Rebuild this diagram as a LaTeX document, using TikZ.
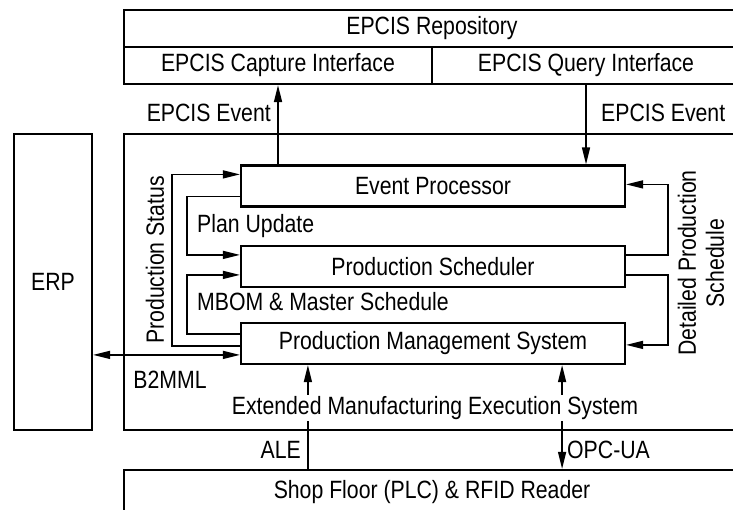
\documentclass[tikz,border=0pt]{standalone}
\usepackage{fontspec}
\setmainfont[FakeStretch=0.85]{Liberation Sans}
\usetikzlibrary{arrows.meta,positioning,calc}

\tikzset{
  box/.style={draw, line width=2.2pt, minimum width=384pt, minimum height=41pt, inner sep=0pt},
  lbl/.style={inner sep=1pt},
  flow/.style={line width=1.5pt, -{Triangle[length=17pt,width=8pt]}},
  both/.style={line width=1.5pt, {Triangle[length=17pt,width=8pt]}-{Triangle[length=17pt,width=8pt]}}
}

\begin{document}
\begin{tikzpicture}[x=1pt,y=-1pt,font=\fontsize{25}{28}\selectfont]
\useasboundingbox (0,0) rectangle (733,509);

% EPCIS repository on top
\node[box, minimum width=616pt, minimum height=37pt] (repo) at (432,28.5) {EPCIS Repository};
\node[box, minimum width=308pt, minimum height=37pt] (capture) at (278,65.5) {EPCIS Capture Interface};
\node[box, minimum width=308pt, minimum height=37pt] (query) at (586,65.5) {EPCIS Query Interface};

% ERP and MES frame
\node[box, minimum width=78pt, minimum height=296pt] (erp) at (53,282) {ERP};
\node[box, minimum width=616pt, minimum height=296pt] (mes) at (432,282) {};

% MES modules
\node[box] (ep) at (433,186) {Event Processor};
\node[box] (ps) at (433,266.5) {Production Scheduler};
\node[box] (pms) at (433,343.5) {Production Management System};

% shop floor
\node[box, minimum width=616pt, minimum height=45pt] (shop) at (432,492.5) {Shop Floor (PLC) \& RFID Reader};

% EPCIS events
\draw[flow] (ep.north -| capture.south) -- (capture.south);
\draw[flow] (query.south) -- (query.south |- ep.north);
\node[lbl, anchor=east] (evcap) at (272,113) {EPCIS Event};
\node[lbl, anchor=west] (evqry) at (600,113) {EPCIS Event};

% left side feedback
\draw[flow] ($(pms.north west)+(0,24)$) -- ++(-68,0) |- ($(ep.north west)+(0,10)$);
\draw[flow] ($(ep.north west)+(0,32)$) -- ++(-53,0) |- ($(ps.north west)+(0,10)$);
\draw[flow] ($(pms.north west)+(0,12)$) -- ++(-53,0) |- ($(ps.north west)+(0,30)$);
\node[lbl, rotate=90] (status) at (155,260) {Production Status};
\node[lbl, anchor=west] (plan) at (196,226) {Plan Update};
\node[lbl, anchor=west] (mbom) at (196,302) {MBOM \& Master Schedule};

% right side schedule
\draw[flow] ($(ps.north east)+(0,10)$) -- ++(42,0) |- ($(ep.north east)+(0,20)$);
\draw[flow] ($(ps.north east)+(0,30)$) -- ++(42,0) |- ($(pms.north east)+(0,23)$);
\node[lbl, rotate=90, align=center] (detail) at (701,263) {Detailed Production\\Schedule};

% ERP link
\coordinate (b2) at ($(pms.north west)+(0,33)$);
\draw[both] (erp.east |- b2) -- (b2);
\node[lbl] (b2mml) at (170,380) {B2MML};

% shop floor links
\coordinate (ale) at ($(pms.south west)+(68,0)$);
\coordinate (opc) at ($(pms.south east)+(-64,0)$);
\draw[flow] (ale |- shop.north) -- (ale);
\draw[both] (opc) -- (opc |- shop.north);
\node[lbl, anchor=east] (alelbl) at (302,450) {ALE};
\node[lbl, anchor=west] (opclbl) at (566,450) {OPC-UA};
\node[lbl, fill=white] (mesname) at (435,408) {Extended Manufacturing Execution System};
\end{tikzpicture}
\end{document}
